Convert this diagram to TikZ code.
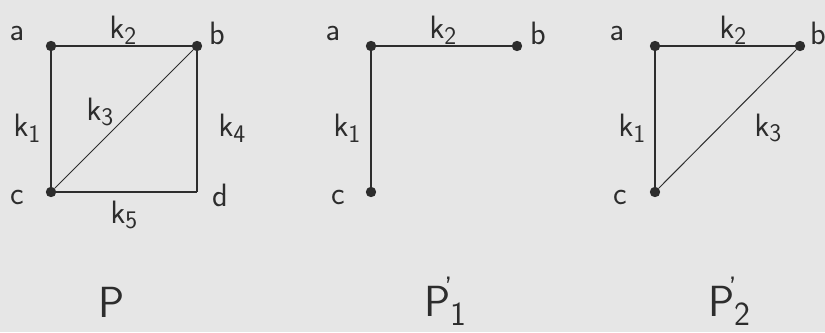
\documentclass[tikz,border=0pt]{standalone}
\usepackage{xcolor}
\definecolor{bggray}{RGB}{230,230,230}
\definecolor{inkgray}{RGB}{45,45,45}
\usetikzlibrary{positioning}
\newcommand{\klab}[1]{k\raisebox{-0.4ex}{\fontsize{18}{20}\selectfont #1}}
\newcommand{\plab}[1]{P\raisebox{-0.45ex}{\fontsize{24}{26}\selectfont #1}\hspace{-0.5em}\raisebox{0.95ex}{\fontsize{22}{24}\selectfont '}}

\begin{document}
\begin{tikzpicture}[
    vertex/.style={circle, fill=inkgray, inner sep=0pt, minimum size=0.26cm},
    edge/.style={inkgray, line width=1pt},
    diag/.style={inkgray, line width=0.7pt},
    lbl/.style={inkgray, font=\sffamily\fontsize{23}{26}\selectfont, inner sep=0pt},
    title/.style={inkgray, font=\sffamily\fontsize{31}{36}\selectfont, inner sep=0pt}]

\useasboundingbox[fill=bggray] (0,0) rectangle (20.625,8.3);

% === Graph P (left) ===
\node[vertex] (pa) at (1.275,7.15) {};
\node[vertex] (pb) at (4.925,7.15) {};
\node[vertex] (pc) at (1.275,3.5) {};
\coordinate (pd) at (4.925,3.5);

\draw[edge] (pa) -- (pb);
\draw[edge] (pa) -- (pc);
\draw[edge] (pb) -- (pd);
\draw[edge] (pc) -- (pd);
\draw[diag] (pc) -- (pb);

\node[lbl] (pla) at (0.425,7.475) {a};
\node[lbl] (plb) at (5.425,7.475) {b};
\node[lbl] (plc) at (0.425,3.375) {c};
\node[lbl] (pld) at (5.5,3.425) {d};
\node[lbl] (pk2) at (3.075,7.55) {\klab{2}};
\node[lbl] (pk1) at (0.675,5.1) {\klab{1}};
\node[lbl] (pk3) at (2.5,5.5) {\klab{3}};
\node[lbl] (pk4) at (5.8,5.1) {\klab{4}};
\node[lbl] (pk5) at (3.1,2.925) {\klab{5}};
\node[title] (ptitle) at (2.8,0.75) {P};

% === Graph P1' (middle) ===
\node[vertex] (qa) at (9.275,7.15) {};
\node[vertex] (qb) at (12.925,7.15) {};
\node[vertex] (qc) at (9.275,3.5) {};

\draw[edge] (qa) -- (qb);
\draw[edge] (qa) -- (qc);

\node[lbl] (qla) at (8.325,7.475) {a};
\node[lbl] (qlb) at (13.45,7.475) {b};
\node[lbl] (qlc) at (8.45,3.375) {c};
\node[lbl] (qk2) at (11.075,7.55) {\klab{2}};
\node[lbl] (qk1) at (8.675,5.1) {\klab{1}};
\node[title, anchor=base west] (qtitle) at (10.6,0.38) {\plab{1}};

% === Graph P2' (right) ===
\node[vertex] (ra) at (16.375,7.15) {};
\node[vertex] (rb) at (20.0,7.15) {};
\node[vertex] (rc) at (16.375,3.5) {};

\draw[edge] (ra) -- (rb);
\draw[edge] (ra) -- (rc);
\draw[diag] (rc) -- (rb);

\node[lbl] (rla) at (15.425,7.475) {a};
\node[lbl] (rlb) at (20.45,7.475) {b};
\node[lbl] (rlc) at (15.5,3.375) {c};
\node[lbl] (rk2) at (18.325,7.55) {\klab{2}};
\node[lbl] (rk1) at (15.8,5.1) {\klab{1}};
\node[lbl] (rk3) at (19.2,5.1) {\klab{3}};
\node[title, anchor=base west] (rtitle) at (17.7,0.38) {\plab{2}};

\end{tikzpicture}
\end{document}
